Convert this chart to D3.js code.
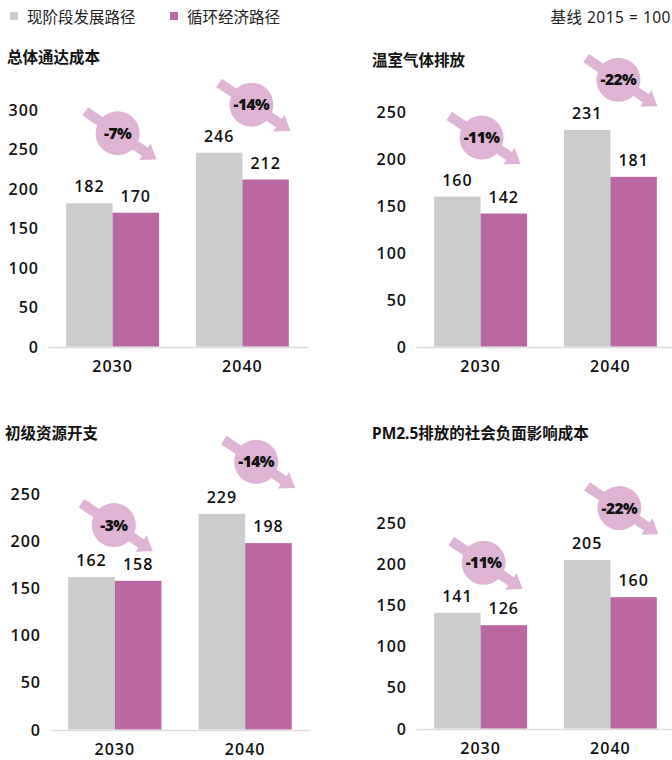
<!DOCTYPE html>
<html>
<head>
<meta charset="utf-8">
<script src="https://cdn.jsdelivr.net/npm/d3@7"></script>
<style>
  html, body { margin: 0; padding: 0; background: #fff; }
  svg { display: block; font-family: "Noto Sans", "Noto Sans CJK SC", sans-serif; }
</style>
</head>
<body>
<div id="chart"></div>
<script>
// datos del gráfico (base 2015 = 100)
const years = ['2030', '2040'];
const seriesNames = ['现阶段发展路径', '循环经济路径'];
const panelTitles = ['总体通达成本', '温室气体排放', '初级资源开支', 'PM2.5排放的社会负面影响成本'];
const currentPath = [[182, 246], [160, 231], [162, 229], [141, 205]];
const circularPath = [[170, 212], [142, 181], [158, 198], [126, 160]];
const changeLabels = [['-7%', '-14%'], ['-11%', '-22%'], ['-3%', '-14%'], ['-11%', '-22%']];
const yMaxes = [300, 250, 250, 250];

// maquetación de cada panel
const layout = [
  { left: 48,  width: 259, base: 347, top: 110, titleX: 7,   titleY: 63,  badges: [[5, 70], [9, 48]] },
  { left: 416, width: 259, base: 347, top: 112, titleX: 372, titleY: 66,  badges: [[1, 59], [8, 50]] },
  { left: 50,  width: 260, base: 730, top: 494, titleX: 5,   titleY: 439, badges: [[-1, 52], [11, 52]] },
  { left: 416, width: 259, base: 729, top: 523, titleX: 372, titleY: 439, badges: [[3, 50], [9, 52]] }
];

const colors = ['#cccccc', '#bb67a4'];
const badgeColor = '#dfb3d4';
const W = 672, H = 760;
const numFont = '"Open Sans", "Noto Sans", sans-serif';

const svg = d3.select('#chart').append('svg')
  .attr('width', W)
  .attr('height', H)
  .attr('viewBox', [0, 0, W, H]);

// leyenda
const legendX = [10, 170];
seriesNames.forEach((name, i) => {
  svg.append('rect')
    .attr('x', legendX[i]).attr('y', 12)
    .attr('width', 8).attr('height', 8)
    .attr('fill', colors[i]);
  svg.append('text')
    .attr('x', legendX[i] + 17).attr('y', 22.5)
    .attr('font-size', '15.5px')
    .attr('fill', '#222')
    .text(name);
});

svg.append('text')
  .attr('x', 671).attr('y', 22.5)
  .attr('text-anchor', 'end')
  .attr('font-size', '15.5px')
  .attr('letter-spacing', '0.5px')
  .attr('fill', '#222')
  .text('基线 2015 = 100');

// dibujar cada panel
panelTitles.forEach((title, p) => {
  const L = layout[p];
  const g = svg.append('g');

  const x = d3.scaleBand()
    .domain(years)
    .range([L.left, L.left + L.width])
    .paddingInner(0.285)
    .paddingOuter(0.14);

  const sub = d3.scaleBand()
    .domain([0, 1])
    .range([0, x.bandwidth()]);

  const y = d3.scaleLinear()
    .domain([0, yMaxes[p]])
    .range([L.base, L.top]);

  g.append('text')
    .attr('x', L.titleX).attr('y', L.titleY)
    .attr('font-size', '15.5px')
    .attr('font-weight', 'bold')
    .attr('fill', '#111')
    .text(title);

  // eje Y sin línea, solo etiquetas
  const yAxis = g.append('g')
    .attr('transform', `translate(${L.left - 9},0)`)
    .call(d3.axisLeft(y).tickValues(d3.range(0, yMaxes[p] + 1, 50)).tickSize(0).tickPadding(0));
  yAxis.select('.domain').remove();
  yAxis.selectAll('text')
    .attr('font-size', '16px')
    .attr('font-family', numFont)
    .attr('font-weight', 600)
    .attr('letter-spacing', '1px')
    .attr('fill', '#111');

  // línea base y etiquetas de año
  const xAxis = g.append('g')
    .attr('transform', `translate(0,${L.base})`)
    .call(d3.axisBottom(x).tickSize(0).tickPadding(14));
  xAxis.select('.domain')
    .attr('stroke', '#dddddd')
    .attr('stroke-width', 1.5);
  xAxis.selectAll('text')
    .attr('font-size', '16px')
    .attr('font-family', numFont)
    .attr('font-weight', 600)
    .attr('letter-spacing', '1px')
    .attr('fill', '#111');

  const rows = years.map((yr, i) => ({ year: yr, vals: [currentPath[p][i], circularPath[p][i]], i }));

  const groups = g.selectAll('.grp')
    .data(rows)
    .join('g')
    .attr('transform', d => `translate(${x(d.year)},0)`);

  groups.selectAll('rect')
    .data(d => d.vals.map((v, s) => ({ v, s })))
    .join('rect')
    .attr('x', d => sub(d.s))
    .attr('width', sub.bandwidth())
    .attr('y', d => y(d.v))
    .attr('height', d => L.base - y(d.v) - 0.5)
    .attr('fill', d => colors[d.s]);

  groups.selectAll('text.val')
    .data(d => d.vals.map((v, s) => ({ v, s })))
    .join('text')
    .attr('class', 'val')
    .attr('x', d => sub(d.s) + sub.bandwidth() / 2)
    .attr('y', d => y(d.v) - 11)
    .attr('text-anchor', 'middle')
    .attr('font-size', '16px')
    .attr('font-family', numFont)
    .attr('font-weight', 600)
    .attr('letter-spacing', '1px')
    .attr('fill', '#111')
    .text(d => d.v);

  // insignias con flecha y porcentaje de cambio
  const ang = 34 * Math.PI / 180;
  const ux = Math.cos(ang), uy = Math.sin(ang);
  rows.forEach(d => {
    const [dx, lift] = L.badges[d.i];
    const cx = x(d.year) + x.bandwidth() / 2 + dx;
    const cy = y(d.vals[0]) - lift;
    const b = g.append('g').attr('transform', `translate(${cx},${cy})`);
    b.append('line')
      .attr('x1', -39 * ux).attr('y1', -39 * uy)
      .attr('x2', 34 * ux).attr('y2', 34 * uy)
      .attr('stroke', badgeColor)
      .attr('stroke-width', 10);
    const hb = 33, tip = 47, hw = 10;
    b.append('path')
      .attr('d', `M${hb * ux - hw * uy},${hb * uy + hw * ux} L${tip * ux},${tip * uy} L${hb * ux + hw * uy},${hb * uy - hw * ux} Z`)
      .attr('fill', badgeColor);
    b.append('circle')
      .attr('r', 22)
      .attr('fill', badgeColor);
    b.append('text')
      .attr('text-anchor', 'middle')
      .attr('dy', '0.35em')
      .attr('font-size', '15.5px')
      .attr('font-family', numFont)
      .attr('font-weight', 800)
      .attr('letter-spacing', '-0.5px')
      .attr('fill', '#111')
      .text(changeLabels[p][d.i]);
  });
});
</script>
</body>
</html>
